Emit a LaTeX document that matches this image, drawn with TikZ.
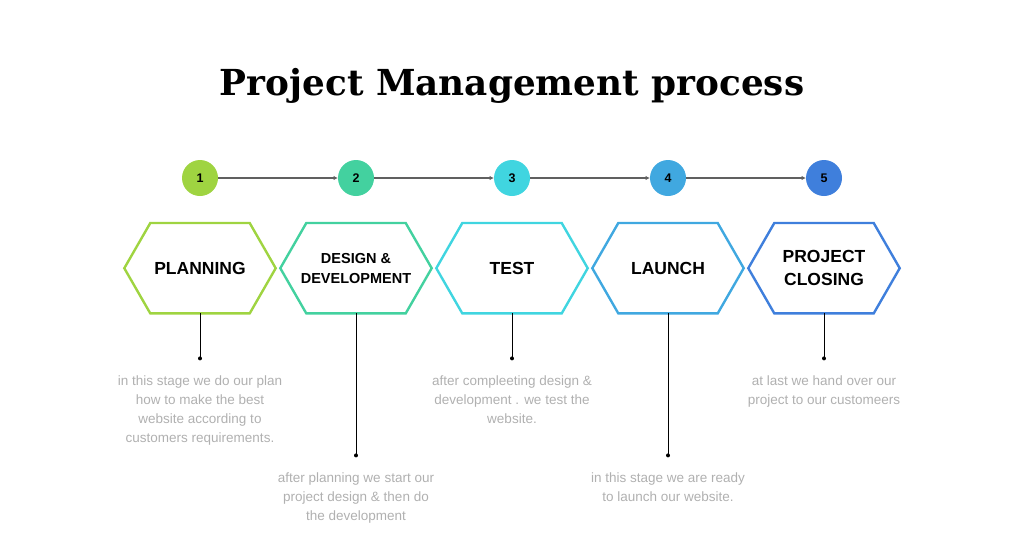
\documentclass[tikz,border=0pt]{standalone}
\usepackage{fontspec}
\setmainfont{Liberation Sans}
\newfontfamily\titlefont{DejaVu Serif}
\usetikzlibrary{positioning, arrows.meta}

\definecolor{stepA}{HTML}{9FD441}
\definecolor{stepB}{HTML}{43D19F}
\definecolor{stepC}{HTML}{40D5E0}
\definecolor{stepD}{HTML}{40A8E0}
\definecolor{stepE}{HTML}{3F7FDC}
\definecolor{descgray}{HTML}{B0B0B0}
\definecolor{linkgray}{HTML}{606060}

\tikzset{
    num/.style  = {circle, minimum size=36pt, inner sep=0pt, outer sep=0pt, font=\bfseries\fontsize{12.5}{12.5}\selectfont},
    hexa/.style = {minimum width=151pt, minimum height=90pt, inner sep=0pt, align=center,
                   font=\bfseries\fontsize{17.5}{23}\selectfont},
    small/.style= {font=\bfseries\fontsize{14.5}{20}\selectfont},
    desc/.style = {inner sep=0pt, align=center, text=descgray, font=\fontsize{13.5}{19}\selectfont},
    link/.style = {draw=linkgray, line width=1.2pt, -{Latex[length=4.5pt,width=4.5pt]}},
    stem/.style = {line width=0.9pt},
}

% hexagon round a node: name, colour
\newcommand{\hexframe}[2]{%
    \draw[#2, line width=2.4pt, line join=miter]
        ([xshift=26pt]#1.north west) -- ([xshift=-26pt]#1.north east) -- (#1.east)
        -- ([xshift=-26pt]#1.south east) -- ([xshift=26pt]#1.south west) -- (#1.west) -- cycle;}

\begin{document}
\begin{tikzpicture}[x=1pt, y=-1pt]
    \useasboundingbox (0,0) rectangle (1024,558);

    \node[font=\titlefont\bfseries\fontsize{35.8}{36}\selectfont] (title) at (512,86) {Project Management process};

    % numbered steps
    \node[num, fill=stepA] (c1) at (200,178) {1};
    \node[num, fill=stepB, right=120pt of c1] (c2) {2};
    \node[num, fill=stepC, right=120pt of c2] (c3) {3};
    \node[num, fill=stepD, right=120pt of c3] (c4) {4};
    \node[num, fill=stepE, right=120pt of c4] (c5) {5};

    % stages
    \node[hexa,        below=27pt of c1] (h1) {PLANNING};
    \node[hexa, small, below=27pt of c2] (h2) {DESIGN \&\\DEVELOPMENT};
    \node[hexa,        below=27pt of c3] (h3) {TEST};
    \node[hexa,        below=27pt of c4] (h4) {LAUNCH};
    \node[hexa,        below=27pt of c5] (h5) {PROJECT\\CLOSING};

    \hexframe{h1}{stepA}
    \hexframe{h2}{stepB}
    \hexframe{h3}{stepC}
    \hexframe{h4}{stepD}
    \hexframe{h5}{stepE}

    \coordinate[below=45pt  of h1] (d1);
    \coordinate[below=142pt of h2] (d2);
    \coordinate[below=45pt  of h3] (d3);
    \coordinate[below=142pt of h4] (d4);
    \coordinate[below=45pt  of h5] (d5);

    % descriptions
    \node[desc, below=17pt of d1] (t1) {in this stage we do our plan\\how to make the best\\website according to\\customers requirements.};
    \node[desc, below=17pt of d2] (t2) {after planning we start our\\project design \& then do\\the development};
    \node[desc, below=17pt of d3] (t3) {after compleeting design \&\\development . we test the\\website.};
    \node[desc, below=17pt of d4] (t4) {in this stage we are ready\\to launch our website.};
    \node[desc, below=17pt of d5] (t5) {at last we hand over our\\project to our customeers};

    \draw[link] (c1) -- (c2);
    \draw[link] (c2) -- (c3);
    \draw[link] (c3) -- (c4);
    \draw[link] (c4) -- (c5);

    \draw[stem] (h1.south) -- (d1);
    \draw[stem] (h2.south) -- (d2);
    \draw[stem] (h3.south) -- (d3);
    \draw[stem] (h4.south) -- (d4);
    \draw[stem] (h5.south) -- (d5);
    \fill (d1) circle (2pt) (d2) circle (2pt) (d3) circle (2pt) (d4) circle (2pt) (d5) circle (2pt);
\end{tikzpicture}
\end{document}
